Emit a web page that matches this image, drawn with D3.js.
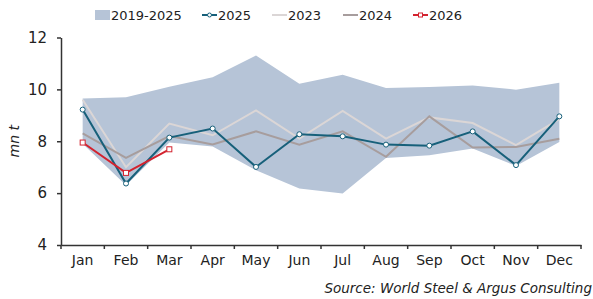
<!DOCTYPE html>
<html>
<head>
<meta charset="utf-8">
<script src="https://cdn.jsdelivr.net/npm/d3@7"></script>
<style>
  body { margin: 0; background: #fff; }
  text { font-family: "DejaVu Sans", sans-serif; fill: #222; }
</style>
</head>
<body>
<script>
const months = ["Jan","Feb","Mar","Apr","May","Jun","Jul","Aug","Sep","Oct","Nov","Dec"];
const rangeMax = [9.65, 9.7, 10.1, 10.47, 11.31, 10.22, 10.56, 10.05, 10.09, 10.15, 9.99, 10.26];
const rangeMin = [7.9, 6.3, 7.95, 7.8, 6.88, 6.18, 5.99, 7.35, 7.46, 7.72, 7.05, 7.97];
const y2025 = [9.22, 6.37, 8.14, 8.49, 7.01, 8.27, 8.19, 7.87, 7.83, 8.38, 7.08, 8.96];
const y2023 = [9.6, 7.0, 8.68, 8.23, 9.19, 8.1, 9.17, 8.1, 8.92, 8.7, 7.85, 8.85];
const y2024 = [8.3, 7.36, 8.2, 7.88, 8.38, 7.87, 8.38, 7.4, 8.96, 7.76, 7.78, 8.1];
const y2026 = [7.95, 6.78, 7.69];
const yTicks = [4, 6, 8, 10, 12];

const W = 593, H = 299;
const m = { top: 37.5, right: 12, bottom: 54, left: 61 };
const w = W - m.left - m.right;
const h = H - m.top - m.bottom;

const svg = d3.select("body").append("svg")
    .attr("width", W)
    .attr("height", H);

const g = svg.append("g").attr("transform", "translate(" + m.left + "," + m.top + ")");

const x = d3.scaleBand().domain(months).range([0, w]).padding(0);
const y = d3.scaleLinear().domain([4, 12]).range([h, 0]);
const cx = (d, i) => x(months[i]) + x.bandwidth() / 2;

// min-max band
const area = d3.area()
    .x(cx)
    .y0((d, i) => y(rangeMin[i]))
    .y1(d => y(d));
g.append("path").datum(rangeMax)
    .attr("d", area)
    .attr("fill", "#b6c4d7");

const line = d3.line().x(cx).y(d => y(d));

g.append("path").datum(y2023)
    .attr("d", line).attr("fill", "none")
    .attr("stroke", "#dbd6d6").attr("stroke-width", 2);

g.append("path").datum(y2024)
    .attr("d", line).attr("fill", "none")
    .attr("stroke", "#a79d9d").attr("stroke-width", 2);

g.append("path").datum(y2025)
    .attr("d", line).attr("fill", "none")
    .attr("stroke", "#17607a").attr("stroke-width", 2);
g.selectAll(".m25").data(y2025).enter().append("circle")
    .attr("cx", cx).attr("cy", d => y(d)).attr("r", 2.5)
    .attr("fill", "#fff").attr("stroke", "#17607a").attr("stroke-width", 1);

g.append("path").datum(y2026)
    .attr("d", line).attr("fill", "none")
    .attr("stroke", "#d3232f").attr("stroke-width", 2);
g.selectAll(".m26").data(y2026).enter().append("rect")
    .attr("x", (d, i) => cx(d, i) - 2.5).attr("y", d => y(d) - 2.5)
    .attr("width", 5).attr("height", 5)
    .attr("fill", "#fff").attr("stroke", "#d3232f").attr("stroke-width", 1);

// axes
const xAxis = g.append("g")
    .attr("transform", "translate(0," + h + ")")
    .call(d3.axisBottom(x).tickSize(0).tickPadding(10));
xAxis.selectAll("text").style("font-size", "14px").attr("fill", "#222");
xAxis.select(".domain").attr("stroke", "#333").attr("stroke-width", 1.5);
xAxis.selectAll(".bt").data(d3.range(months.length + 1)).enter().append("line")
    .attr("x1", i => i * x.bandwidth()).attr("x2", i => i * x.bandwidth())
    .attr("y1", 0).attr("y2", 4)
    .attr("stroke", "#333").attr("stroke-width", 1.5);

const yAxis = g.append("g")
    .call(d3.axisLeft(y).tickValues(yTicks).tickSize(4).tickSizeOuter(0).tickPadding(10));
yAxis.selectAll("text").style("font-size", "15px").attr("fill", "#222");
yAxis.select(".domain").attr("stroke", "#333").attr("stroke-width", 1.5);
yAxis.selectAll(".tick line").attr("stroke", "#333").attr("stroke-width", 1.5);

svg.append("text")
    .attr("transform", "translate(19," + (m.top + y(8)) + ") rotate(-90)")
    .attr("text-anchor", "middle")
    .style("font-size", "14px").style("font-style", "italic")
    .text("mn t");

// legend
const leg = svg.append("g").attr("transform", "translate(0,15)");
leg.append("rect").attr("x", 95).attr("y", -5).attr("width", 15).attr("height", 10).attr("fill", "#b6c4d7");
const legItems = [
  { label: "2025", x: 202, color: "#17607a", mark: "circle" },
  { label: "2023", x: 272, color: "#dbd6d6" },
  { label: "2024", x: 343, color: "#a79d9d" },
  { label: "2026", x: 413, color: "#d3232f", mark: "rect" }
];
leg.append("text").attr("x", 111).attr("y", 5).style("font-size", "13px").text("2019-2025");
legItems.forEach(d => {
  leg.append("line").attr("x1", d.x).attr("x2", d.x + 15).attr("y1", 0).attr("y2", 0)
     .attr("stroke", d.color).attr("stroke-width", 2);
  if (d.mark === "circle") {
    leg.append("circle").attr("cx", d.x + 7.5).attr("cy", 0).attr("r", 2)
       .attr("fill", "#fff").attr("stroke", d.color);
  } else if (d.mark === "rect") {
    leg.append("rect").attr("x", d.x + 5.5).attr("y", -2).attr("width", 4).attr("height", 4)
       .attr("fill", "#fff").attr("stroke", d.color);
  }
  leg.append("text").attr("x", d.x + 16).attr("y", 5).style("font-size", "13px").text(d.label);
});

svg.append("text")
    .attr("x", 592).attr("y", 293)
    .attr("text-anchor", "end")
    .style("font-size", "13.5px").style("font-style", "italic")
    .text("Source: World Steel & Argus Consulting");
</script>
</body>
</html>
